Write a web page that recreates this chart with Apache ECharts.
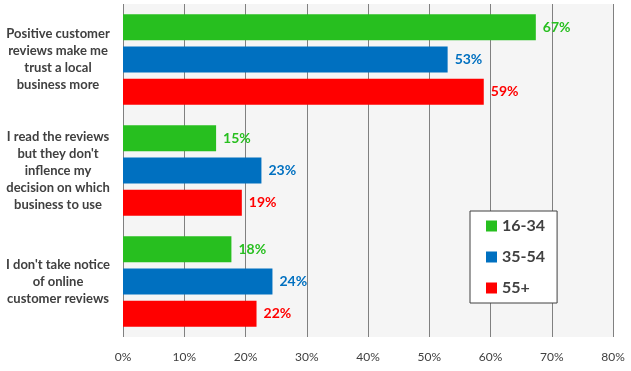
<!DOCTYPE html>
<html>
<head>
<meta charset="utf-8">
<script src="https://cdn.jsdelivr.net/npm/echarts@6/dist/echarts.min.js"></script>
<style>html,body{margin:0;padding:0;background:#fff}#c{width:631px;height:371px}</style>
</head>
<body>
<div id="c"></div>
<script>
const categories = [
  "Positive customer\nreviews make me\ntrust a local\nbusiness more",
  "I read the reviews\nbut they don't\ninflence my\ndecision on which\nbusiness to use",
  "I don't take notice\nof online\ncustomer reviews"
];
const seriesNames = ["16-34", "35-54", "55+"];
const seriesColors = ["#27bf1f", "#0070c0", "#ff0000"];
const values1634 = [67.4, 15.2, 17.7];
const values3554 = [53.0, 22.6, 24.4];
const values55 = [58.9, 19.4, 21.8];
const xTicks = [0, 10, 20, 30, 40, 50, 60, 70, 80];

const FONT = "Lato";
const allValues = [values1634, values3554, values55];

const chart = echarts.init(document.getElementById('c'), null, {renderer: 'canvas'});
chart.setOption({
  animation: false,
  backgroundColor: '#ffffff',
  grid: {left: 123, right: 18, top: 4, bottom: 34, show: true, backgroundColor: '#f5f5f5', borderWidth: 0},
  legend: {
    orient: 'vertical', left: 470, top: 211,
    backgroundColor: '#ffffff', borderColor: '#404040', borderWidth: 1,
    padding: [7, 12, 7, 16], itemGap: 15, itemWidth: 11, itemHeight: 11, itemTextGap: 5,
    icon: 'rect',
    textStyle: {fontFamily: FONT, fontSize: 16, fontWeight: 'bold', color: '#404040', lineHeight: 16},
    data: seriesNames
  },
  xAxis: {
    type: 'value', min: xTicks[0], max: xTicks[xTicks.length - 1], interval: 10,
    axisLine: {show: false}, axisTick: {show: false},
    splitLine: {show: true, lineStyle: {color: '#808080', width: 1}},
    axisLabel: {formatter: '{value}%', fontFamily: FONT, fontSize: 12, color: '#404040', margin: 14}
  },
  yAxis: {
    type: 'category', data: categories, inverse: true,
    axisLine: {show: false}, axisTick: {show: false},
    axisLabel: {fontFamily: FONT, fontSize: 13, fontWeight: 'bold', color: '#404040', lineHeight: 17, align: 'center', margin: 65}
  },
  series: seriesNames.map((n, i) => ({
    name: n, type: 'bar', data: allValues[i], barWidth: 26, barGap: '24%',
    itemStyle: {color: seriesColors[i]},
    label: {show: true, position: 'right', distance: 7, formatter: p => Math.round(p.value) + '%',
      fontFamily: FONT, fontSize: 14, fontWeight: 'bold', color: seriesColors[i]}
  }))
});
</script>
</body>
</html>
